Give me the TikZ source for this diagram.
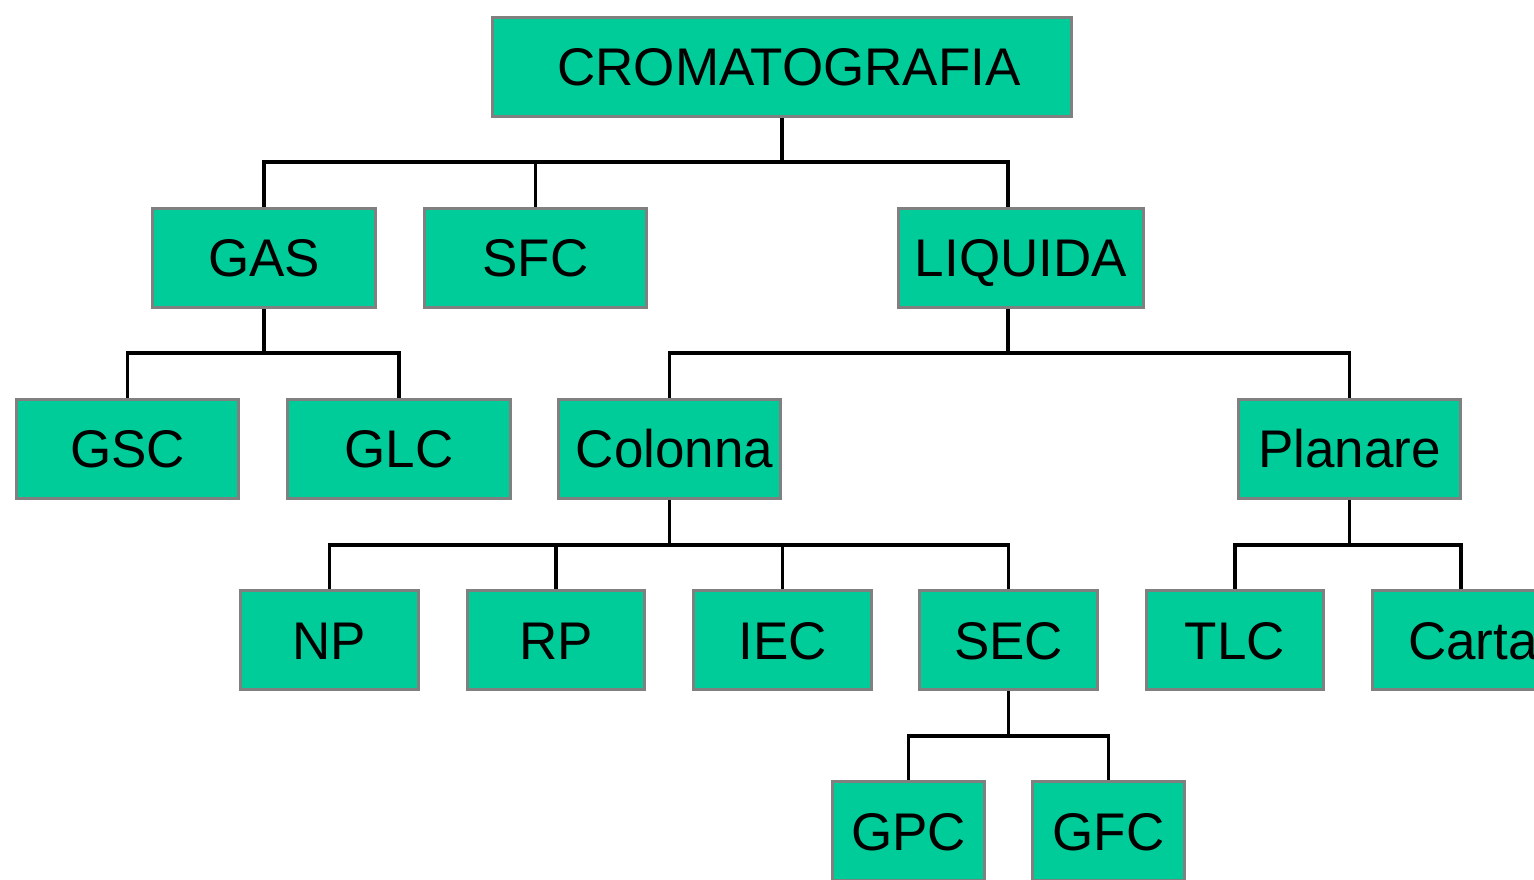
\documentclass[tikz,border=0pt]{standalone}
\usepackage{fontspec}
\setmainfont{Liberation Sans}
\definecolor{boxfill}{HTML}{00CC99}
\definecolor{boxline}{HTML}{808080}
\begin{document}
\begin{tikzpicture}[x=1pt,y=1pt,
  box/.style={draw=boxline, line width=3pt, fill=boxfill, inner sep=0pt,
    minimum height=99pt, font=\fontsize{53}{60}\selectfont,
    text height=38pt, text depth=0pt},
  conn/.style={draw=black, line width=3.2pt}]
\useasboundingbox (0,0) rectangle (1534,879);
\fill[white] (0,0) rectangle (1534,879);
\clip (0,0) rectangle (1534,879);
% nodes
\node[box, minimum width=579pt] (crom) at (782,812) {\hspace*{14pt}CROMATOGRAFIA};
\node[box, minimum width=223pt] (gas) at (264,621) {GAS};
\node[box, minimum width=222pt] (sfc) at (535.5,621) {SFC};
\node[box, minimum width=245pt] (liq) at (1021,621) {LIQUIDA};
\node[box, minimum width=222pt] (gsc) at (127.5,430) {GSC};
\node[box, minimum width=223pt] (glc) at (399,430) {GLC};
\node[box, minimum width=222pt] (col) at (669.5,430) {\hspace*{10pt}Colonna};
\node[box, minimum width=222pt] (pla) at (1349.5,430) {Planare};
\node[box, minimum width=178pt] (np) at (329.5,239) {NP};
\node[box, minimum width=177pt] (rp) at (556,239) {RP};
\node[box, minimum width=178pt] (iec) at (782.5,239) {IEC};
\node[box, minimum width=178pt] (sec) at (1008.5,239) {SEC};
\node[box, minimum width=177pt] (tlc) at (1235,239) {TLC};
\node[box, minimum width=177pt] (carta) at (1461,239) {\hspace*{24pt}Carta};
\node[box, minimum width=152pt] (gpc) at (908.5,48) {GPC};
\node[box, minimum width=152pt] (gfc) at (1108.5,48) {GFC};
% bus levels
\coordinate (b1) at (0,717);
\coordinate (b2) at (0,526);
\coordinate (b3) at (0,334);
\coordinate (b4) at (0,143);
\coordinate (liqdrop) at (1008,621);
% connectors
\draw[conn] (crom.south) -- (crom.south |- b1) -| (gas.north);
\draw[conn] (crom.south |- b1) -| (sfc.north);
\draw[conn] (crom.south |- b1) -| (liqdrop |- liq.north);
\draw[conn] (gas.south) -- (gas.south |- b2) -| (gsc.north);
\draw[conn] (gas.south |- b2) -| (glc.north);
\draw[conn] (liqdrop |- liq.south) -- (liqdrop |- b2) -| (col.north);
\draw[conn] (liqdrop |- b2) -| (pla.north);
\draw[conn] (col.south) -- (col.south |- b3) -| (np.north);
\draw[conn] (col.south |- b3) -| (rp.north);
\draw[conn] (col.south |- b3) -| (iec.north);
\draw[conn] (col.south |- b3) -| (sec.north);
\draw[conn] (pla.south) -- (pla.south |- b3) -| (tlc.north);
\draw[conn] (pla.south |- b3) -| (carta.north);
\draw[conn] (sec.south) -- (sec.south |- b4) -| (gpc.north);
\draw[conn] (sec.south |- b4) -| (gfc.north);
\end{tikzpicture}
\end{document}
